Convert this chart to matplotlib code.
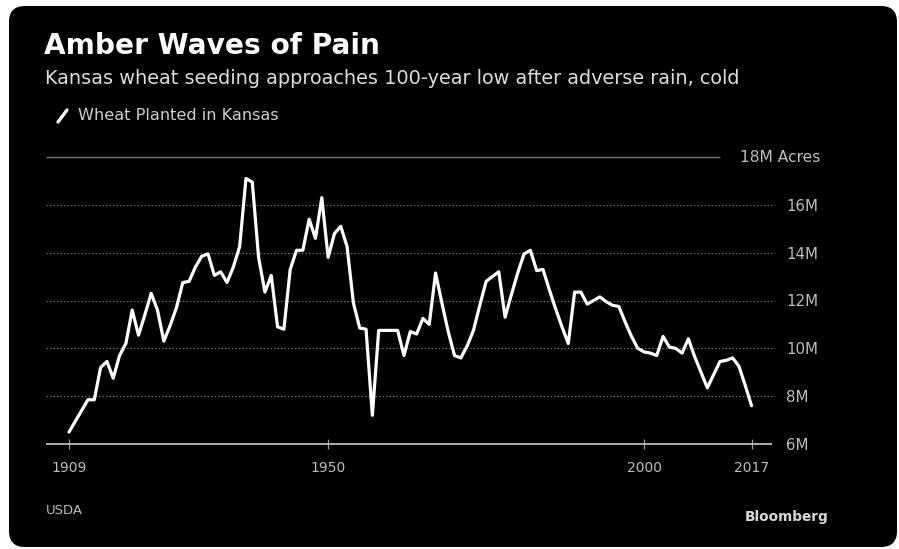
import matplotlib
matplotlib.use("Agg")
import matplotlib.pyplot as plt
from matplotlib.patches import FancyBboxPatch
from matplotlib import font_manager

# Kansas winter wheat planted, million acres, 1909-2017 (USDA)
first_year = 1909
acres_m = [
    6.5, 6.95, 7.4, 7.85, 7.85, 9.2, 9.45, 8.75, 9.7, 10.2,        # 1909-1918
    11.6, 10.55, 11.4, 12.3, 11.6, 10.3, 10.95, 11.7, 12.75, 12.8,  # 1919-1928
    13.4, 13.85, 13.95, 13.05, 13.2, 12.75, 13.4, 14.25, 17.1, 16.95,  # 1929-1938
    13.8, 12.35, 13.05, 10.9, 10.8, 13.3, 14.1, 14.1, 15.4, 14.6,  # 1939-1948
    16.3, 13.8, 14.8, 15.1, 14.25, 11.9, 10.85, 10.8, 7.2, 10.75,  # 1949-1958
    10.75, 10.75, 10.75, 9.7, 10.7, 10.6, 11.25, 11.0, 13.15, 11.9,  # 1959-1968
    10.7, 9.7, 9.6, 10.1, 10.75, 11.8, 12.8, 13.0, 13.2, 11.3,     # 1969-1978
    12.25, 13.15, 13.95, 14.1, 13.25, 13.3, 12.45, 11.65, 10.9, 10.2,  # 1979-1988
    12.35, 12.35, 11.85, 12.0, 12.15, 11.95, 11.8, 11.75, 11.1, 10.5,  # 1989-1998
    10.0, 9.85, 9.8, 9.7, 10.5, 10.05, 10.0, 9.8, 10.4, 9.65,      # 1999-2008
    9.0, 8.35, 8.9, 9.45, 9.5, 9.6, 9.25, 8.45, 7.6,               # 2009-2017
]
years = list(range(first_year, first_year + len(acres_m)))

x_ticks = [1909, 1950, 2000, 2017]
y_ticks = [6, 8, 10, 12, 14, 16]
y_tick_labels = ["6M", "8M", "10M", "12M", "14M", "16M"]
top_value = 18
top_label = "18M Acres"

title = "Amber Waves of Pain"
subtitle = "Kansas wheat seeding approaches 100-year low after adverse rain, cold"
legend_label = "Wheat Planted in Kansas"
source = "USDA"
brand = "Bloomberg"

available = {f.name for f in font_manager.fontManager.ttflist}
narrow = "Liberation Sans Narrow" if "Liberation Sans Narrow" in available else "DejaVu Sans"
body = "DejaVu Sans"

W, H = 899, 549
fig = plt.figure(figsize=(W / 100, H / 100), dpi=100, facecolor="white")

# pixel-space canvas for the dark card and the free text
bg = fig.add_axes([0, 0, 1, 1])
bg.set_xlim(0, W)
bg.set_ylim(H, 0)
bg.axis("off")
bg.add_patch(FancyBboxPatch((9, 6), 888, 541, boxstyle="round,pad=0,rounding_size=16",
                            fc="black", ec="none"))

bg.text(44, 54, title, color="white", fontsize=20.2, fontweight="bold",
        family=body, va="baseline", ha="left")
bg.text(45, 84, subtitle, color="#dcdcdc", fontsize=13.9,
        family=narrow, va="baseline", ha="left")
bg.plot([58, 67], [122, 110], color="white", lw=2.4, solid_capstyle="round")
bg.text(78, 116, legend_label, color="#cfcfcf", fontsize=11.6,
        family=narrow, va="center", ha="left")
bg.text(46, 511, source, color="#bdbdbd", fontsize=9.5,
        family=narrow, va="center", ha="left")
bg.text(829, 517, brand, color="#d8d8d8", fontsize=9.8, fontweight="bold",
        family=narrow, va="center", ha="right")

# chart area: 1909 -> x=69px, 6.32 px per year; 6M -> y=444px, 18M -> y=157px
px_per_year = 6.32
ax_left_px, ax_right_px = 46, 775
x0 = 1909 - (69 - ax_left_px) / px_per_year
x1 = 1909 + (ax_right_px - 69) / px_per_year
ax_bottom_px, ax_top_px = 444, 157
ax = fig.add_axes([ax_left_px / W, (H - ax_bottom_px) / H,
                   (ax_right_px - ax_left_px) / W, (ax_bottom_px - ax_top_px) / H])
ax.set_facecolor("none")
ax.set_xlim(x0, x1)
ax.set_ylim(6, 18)
for s in ax.spines.values():
    s.set_visible(False)

for v in y_ticks[1:]:
    ax.axhline(v, color="#6a6a6a", lw=0.9, ls=(0, (1.2, 1.6)), zorder=1)
x_end_top = 1909 + (720 - 69) / px_per_year
ax.hlines(top_value, x0, x_end_top, color="#7a7a7a", lw=0.9, clip_on=False, zorder=1)
ax.hlines(y_ticks[0], x0, 2017 + (771 - 751) / px_per_year,
          color="#bdbdbd", lw=1.3, clip_on=False, zorder=2)

ax.plot(years, acres_m, color="white", lw=2.3, solid_joinstyle="round",
        solid_capstyle="round", zorder=3, clip_on=False)

ax.set_xticks(x_ticks)
ax.set_xticklabels([str(t) for t in x_ticks], family=narrow, fontsize=10, color="#bdbdbd")
ax.tick_params(axis="x", direction="inout", length=7, width=0.9, color="#9a9a9a", pad=9)

ax.yaxis.tick_right()
ax.set_yticks(y_ticks)
ax.set_yticklabels(y_tick_labels, family=narrow, fontsize=10.8, color="#bdbdbd")
ax.tick_params(axis="y", length=0, pad=8)

ax.annotate(top_label, xy=(1, top_value), xycoords=("axes fraction", "data"),
            xytext=(45, 0), textcoords="offset pixels", ha="right", va="center",
            family=narrow, fontsize=11.2, color="#bdbdbd", annotation_clip=False)

fig.savefig("out.png", dpi=100, facecolor="white")
